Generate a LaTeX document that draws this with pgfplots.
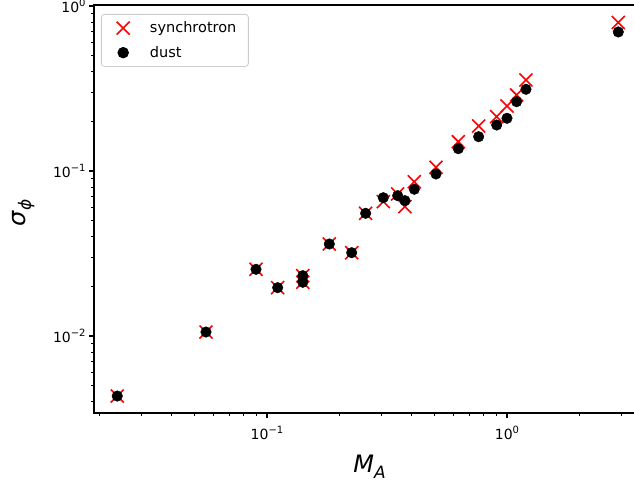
\documentclass[border=0pt]{standalone}
\usepackage{fontspec}
\setmainfont{DejaVu Sans}
\usepackage{pgfplots}
\usepackage{pgfplotstable}
\pgfplotsset{compat=1.18}
\newcommand\sups[1]{\raisebox{0.42em}{\fontsize{10}{12}\selectfont #1}}
\newcommand\subs[1]{\raisebox{-0.22em}{\fontsize{17}{20}\selectfont #1}}
\pgfplotsset{legend image code/.code={\draw[#1] plot coordinates {(11pt,0pt)};
    \path (0pt,0pt) (22pt,0pt);}}

\pgfplotstableread{
x y
0.02377 0.004326
0.0557 0.01057
0.0900 0.02536
0.1108 0.01963
0.141 0.02320
0.141 0.02116
0.1819 0.0361
0.2254 0.03198
0.2577 0.05541
0.3052 0.0652
0.3504 0.0726
0.3758 0.0608
0.411 0.0861
0.506 0.1053
0.627 0.1505
0.762 0.1874
0.906 0.2134
1.0 0.2476
1.097 0.2888
1.2 0.356
2.91 0.794
}\synch

\pgfplotstableread{
x y
0.02377 0.004326
0.0557 0.01057
0.0900 0.02536
0.1108 0.01963
0.141 0.02320
0.141 0.02116
0.1819 0.0361
0.2254 0.03198
0.2577 0.05541
0.3052 0.0689
0.3504 0.0709
0.3758 0.0661
0.411 0.0775
0.506 0.0959
0.627 0.1365
0.762 0.1614
0.906 0.190
1.0 0.2087
1.097 0.263
1.2 0.3128
2.91 0.696
}\dust

\begin{document}
\begin{tikzpicture}
\begin{axis}[
  at={(0,0)}, anchor=south west,
  scale only axis, width=551pt, height=408pt,
  xmode=log, ymode=log,
  xmin=0.01902, xmax=3.76, ymin=0.003414, ymax=1.014,
  axis line style={line width=1.1pt},
  tick align=outside, xtick pos=left, ytick pos=left,
  major tick length=4.9pt, minor tick length=2.8pt,
  every tick/.style={black, line width=1.1pt},
  every minor tick/.style={black, line width=0.8pt},
  xtick={0.1,1},
  xticklabels={10\sups{−1},10\sups{0}},
  ytick={0.01,0.1,1},
  yticklabels={10\sups{−2},10\sups{−1},10\sups{0}},
  minor xtick={0.02,0.03,0.04,0.05,0.06,0.07,0.08,0.09,0.2,0.3,0.4,0.5,0.6,0.7,0.8,0.9,2,3},
  minor ytick={0.004,0.005,0.006,0.007,0.008,0.009,0.02,0.03,0.04,0.05,0.06,0.07,0.08,0.09,0.2,0.3,0.4,0.5,0.6,0.7,0.8,0.9},
  ticklabel style={font=\fontsize{14}{16}\selectfont},
  xticklabel style={yshift=-5pt},
  xlabel={\textit{M}\subs{\textit{A}}},
  ylabel={\textit{σ}\subs{\textit{ϕ}}},
  label style={font=\fontsize{24}{28}\selectfont},
  xlabel style={at={(axis description cs:0.5,-0.147)}, anchor=base},
  ylabel style={at={(axis description cs:-0.124,0.49)}, anchor=base},
  legend style={at={(0,1)}, anchor=north west, xshift=7pt, yshift=-9pt,
    draw=black!20, rounded corners=3pt, line width=0.8pt,
    font=\fontsize{14.5}{17}\selectfont, row sep=8pt, column sep=13pt,
    inner xsep=10pt, inner ysep=5.5pt},
  legend cell align=left,
]
\addplot[only marks, mark=x, mark size=9.2pt, red, line width=1.6pt] table[x=x,y=y] {\synch};
\addlegendentry{synchrotron}
\addplot[only marks, mark=*, mark size=5.3pt, black] table[x=x,y=y] {\dust};
\addlegendentry{dust}
\end{axis}
\pgfresetboundingbox
\useasboundingbox (-94pt,-71pt) rectangle (540pt,413pt);
\end{tikzpicture}
\end{document}
